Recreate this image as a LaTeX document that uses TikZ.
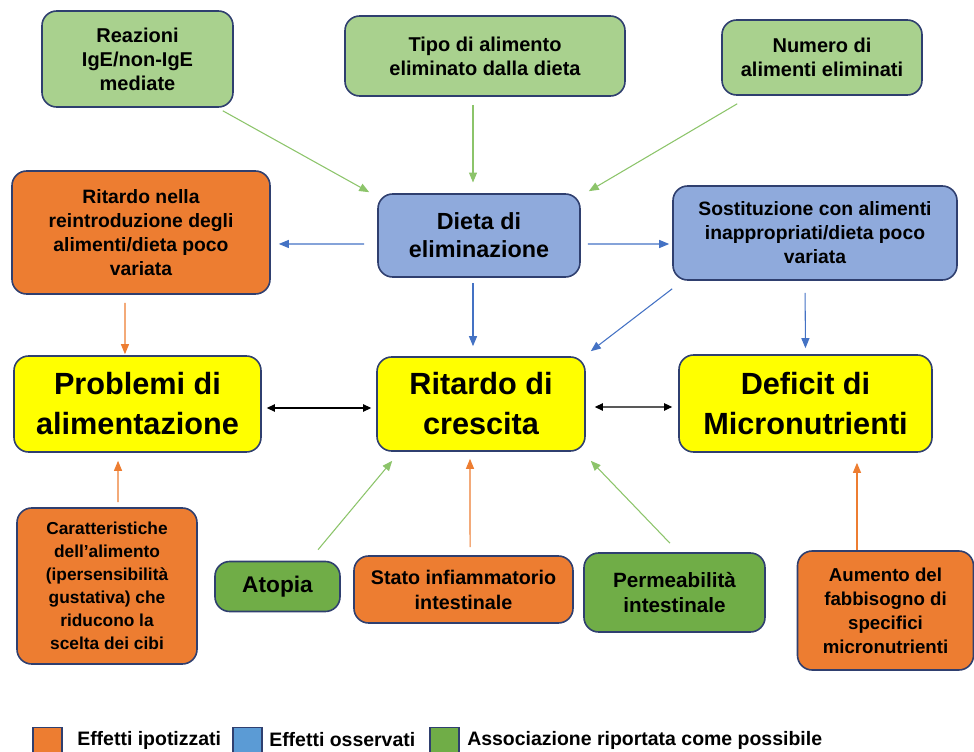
\documentclass[tikz,border=0pt]{standalone}
\usepackage{fontspec}
\setmainfont{Liberation Sans}
\usetikzlibrary{arrows.meta}
\definecolor{lgreen}{HTML}{A9D18E}
\definecolor{dgreen}{HTML}{70AD47}
\definecolor{orng}{HTML}{ED7D31}
\definecolor{lblue}{HTML}{8FAADC}
\definecolor{yell}{HTML}{FFFF00}
\definecolor{bord}{HTML}{2F3F6F}
\definecolor{agreen}{HTML}{8CC46A}
\definecolor{ablue}{HTML}{4472C4}
\definecolor{legblue}{HTML}{5B9BD5}
\tikzset{
  box/.style={draw=bord,line width=1.2pt,rounded corners=11pt,align=center,inner sep=2pt},
  fnt/.style 2 args={font=\fontsize{#1}{#2}\selectfont\bfseries},
  conn/.style={line width=0.8pt,-{Triangle[length=7.5pt,width=6pt]}},
  both/.style={line width=0.8pt,{Triangle[length=6pt,width=5.5pt]}-{Triangle[length=6pt,width=5.5pt]}},
  legsq/.style={draw=bord,line width=1pt,minimum width=21.75pt,minimum height=18.75pt,inner sep=0pt}
}
\begin{document}
\begin{tikzpicture}[x=0.75pt,y=-0.75pt]
        \useasboundingbox (0,0) rectangle (974,752);
        \begin{scope}[every node/.style={box,fill=lgreen,fnt={15}{18}}]
          \node[minimum width=143.25pt,minimum height=72pt] at (137.5,59) (reaz) {Reazioni\\IgE/non-IgE\\mediate};
          \node[minimum width=210pt,minimum height=60pt] at (485,56) (tipo) {Tipo di alimento\\eliminato dalla dieta};
          \node[minimum width=150pt,minimum height=56.25pt] at (822,57.5) (numero) {Numero di\\alimenti eliminati};
        \end{scope}

        \node[box,fill=orng,fnt={14.5}{18},minimum width=193.5pt,minimum height=92.25pt] at (141,232.5) (rein) {Ritardo nella\\reintroduzione degli\\alimenti/dieta poco\\variata};
        \node[box,fill=lblue,fnt={17.5}{21},minimum width=151.5pt,minimum height=62.25pt] at (479,235.5) (dieta) {Dieta di\\eliminazione};
        \node[box,fill=lblue,fnt={14.5}{18},minimum width=213pt,minimum height=70.5pt] at (815,233) (sost) {Sostituzione con alimenti\\inappropriati/dieta poco\\variata};

        \begin{scope}[every node/.style={box,fill=yell,fnt={23}{30}}]
          \node[minimum width=185.25pt,minimum height=72pt] at (137.5,404) (probl) {Problemi di\\alimentazione};
          \node[minimum width=156pt,minimum height=70.5pt] at (481,404) (ritcr) {Ritardo di\\crescita};
          \node[minimum width=189.75pt,minimum height=72.75pt] at (805.5,403.5) (defic) {Deficit di\\Micronutrienti};
        \end{scope}

        \node[box,fill=orng,fnt={13}{17.25},minimum width=135pt,minimum height=117pt] at (107,586) (caratt) {Caratteristiche\\dell’alimento\\(ipersensibilità\\gustativa) che\\riducono la\\scelta dei cibi};
        \node[box,fill=dgreen,fnt={17}{20},minimum width=93.75pt,minimum height=37.5pt] at (277.5,586.5) (atopia) {Atopia};
        \node[box,fill=orng,fnt={14.8}{18.75},minimum width=164.25pt,minimum height=50.25pt] at (463.5,589.5) (stato) {Stato infiammatorio\\intestinale};
        \node[box,fill=dgreen,fnt={15.5}{19},minimum width=135.75pt,minimum height=59.25pt] at (674.5,592.5) (perm) {Permeabilità\\intestinale};
        \node[box,fill=orng,fnt={14}{18},minimum width=132pt,minimum height=89.25pt] at (885.5,610.5) (aum) {Aumento del\\fabbisogno di\\specifici\\micronutrienti};

        \begin{scope}[agreen,conn]
          \path ([xshift=-8.25pt,yshift=-2.25pt]reaz.south east) edge ([xshift=-6pt,yshift=0.75pt]dieta.north west);
          \path ([xshift=-9pt]tipo.south) edge[shorten <=6pt,shorten >=8pt] ([xshift=-4.5pt]dieta.north);
          \path ([xshift=12pt,yshift=-6pt]numero.south west) edge ([xshift=6pt,yshift=1.5pt]dieta.north east);
          \path ([xshift=30.4pt,yshift=8.25pt]atopia.north) edge ([xshift=12pt,yshift=-6.75pt]ritcr.south west);
          \path ([xshift=-3.4pt,yshift=6.75pt]perm.north) edge ([xshift=3.75pt,yshift=-6.75pt]ritcr.south east);
        \end{scope}

        \begin{scope}[ablue,conn]
          \path ([yshift=-6.4pt]dieta.west) edge[shorten <=9.75pt,shorten >=6pt] ([yshift=-8.6pt]rein.east);
          \path ([yshift=-6.4pt]dieta.east) edge[shorten <=5.25pt,shorten >=2.25pt] ([yshift=-8.25pt]sost.west);
          \path ([xshift=-4.5pt]dieta.south) edge[shorten <=4pt,shorten >=7.5pt] ([xshift=-6pt]ritcr.north);
          \path ([yshift=-6pt]sost.south west) edge ([xshift=3.75pt,yshift=3.75pt]ritcr.north east);
          \path ([xshift=-7.5pt]sost.south) edge[shorten <=9pt,shorten >=4.5pt] (defic.north);
        \end{scope}

        \begin{scope}[orng,conn]
          \path ([xshift=-12pt]rein.south) edge[shorten <=6pt,shorten >=0.75pt] ([xshift=-9.4pt]probl.north);
          \path ([xshift=8.25pt]caratt.north) edge[shorten <=3.75pt,shorten >=6pt] ([xshift=-14.6pt]probl.south);
          \path ([xshift=4.9pt]stato.north) edge[shorten <=6pt,shorten >=5.25pt] ([xshift=-8.25pt]ritcr.south);
          \path ([xshift=-21.4pt]aum.north) edge[shorten >=7.5pt] ([xshift=38.6pt]defic.south);
        \end{scope}

        \begin{scope}[black,both]
          \path ([yshift=-3pt]probl.east) edge[shorten <=3.75pt,shorten >=3.75pt] ([yshift=-3pt]ritcr.west);
          \path ([yshift=-2.25pt]ritcr.east) edge[shorten <=6.75pt,shorten >=4.5pt] ([yshift=-2.6pt]defic.west);
        \end{scope}

        \begin{scope}[every node/.style={fnt={14.6}{17},anchor=west,inner sep=0pt}]
          \node[legsq,fill=orng,anchor=center] at (47.5,740) (legor) {};
          \node at (77,740) (legortxt) {Effetti ipotizzati};
          \node[legsq,fill=legblue,anchor=center] at (247.5,740) (legbl) {};
          \node at (269,740) (legbltxt) {Effetti osservati};
          \node[legsq,fill=dgreen,anchor=center] at (444.5,740) (leggr) {};
          \node at (467,740) (leggrtxt) {Associazione riportata come possibile};
        \end{scope}
      \end{tikzpicture}
\end{document}
